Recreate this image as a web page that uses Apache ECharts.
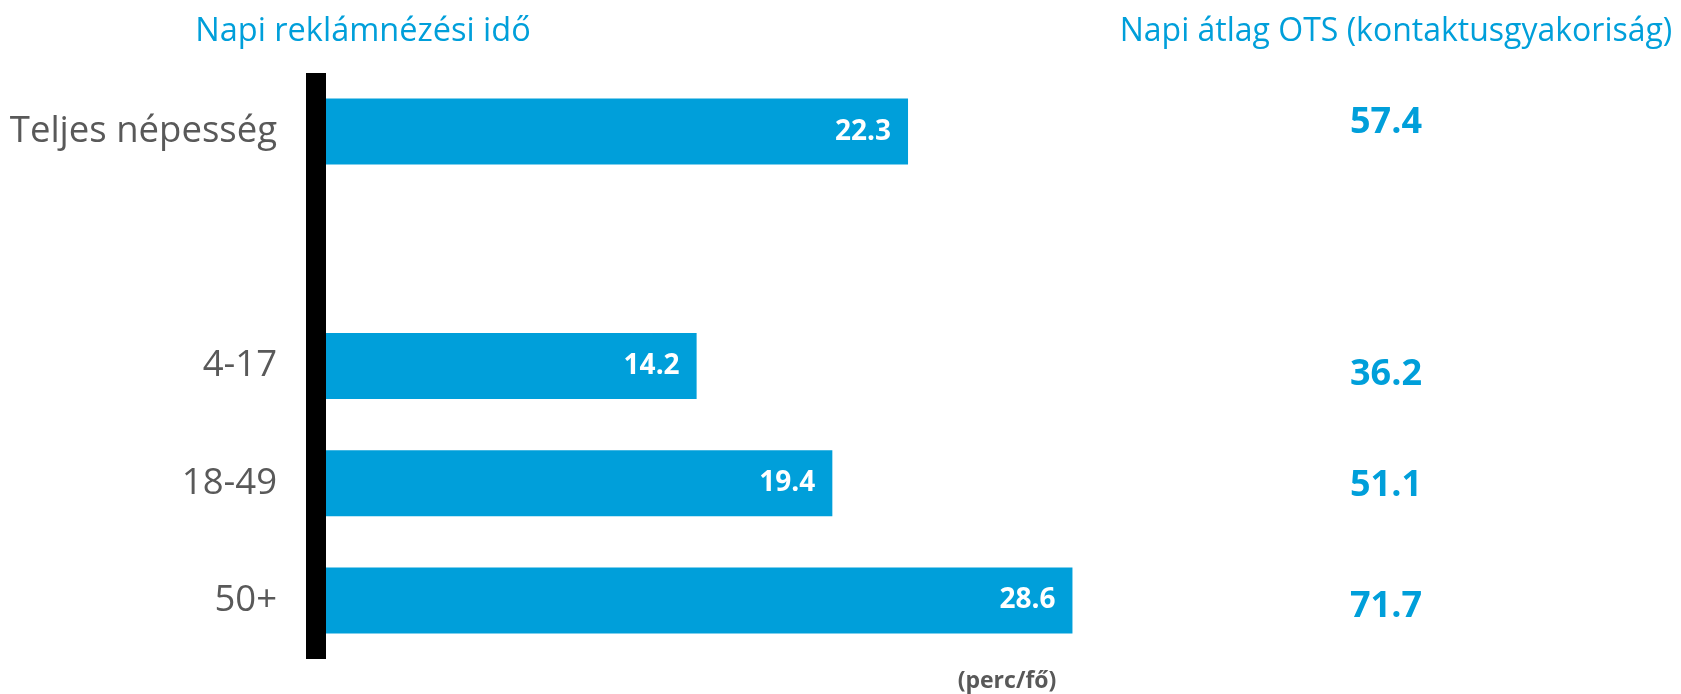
<!DOCTYPE html>
<html>
<head>
<meta charset="utf-8">
<script src="https://cdn.jsdelivr.net/npm/echarts@6/dist/echarts.min.js"></script>
<style>
html,body{margin:0;padding:0;background:#fff;}
#chart{width:1681px;height:694px;}
</style>
</head>
<body>
<div id="chart"></div>
<script>
const categories = ['Teljes népesség', '', '4-17', '18-49', '50+'];
const viewTime = [22.3, null, 14.2, 19.4, 28.6];
const otsValues = ['57.4', '', '36.2', '51.1', '71.7'];
const leftTitle = 'Napi reklámnézési idő';
const rightTitle = 'Napi átlag OTS (kontaktusgyakoriság)';
const unitNote = '(perc/fő)';

const BLUE = '#009FDA';
const GRAY = '#595959';
const FONT = 'Open Sans';

const otsPad = [[0,0,18,0],[0,0,0,0],[18,0,0,0],[5,0,0,0],[12,0,0,0]];
const otsRich = {};
otsPad.forEach((p, i) => {
  otsRich['o' + i] = {color: BLUE, fontSize: 36, fontWeight: 'bold', fontFamily: FONT, padding: p};
});

const chart = echarts.init(document.getElementById('chart'), null, {renderer: 'canvas'});
chart.setOption({
  animation: false,
  grid: {left: 326, top: 73, width: 1305, height: 586},
  xAxis: {type: 'value', min: 0, max: 50, show: false},
  yAxis: [
    {
      type: 'category', data: categories, inverse: true, offset: 10,
      axisLine: {show: true, onZero: false, lineStyle: {color: '#000', width: 20, cap: 'butt'}},
      axisTick: {show: false},
      splitLine: {show: false},
      axisLabel: {color: GRAY, fontSize: 36.5, fontFamily: FONT, margin: 39}
    },
    {
      type: 'category', position: 'right', inverse: true, offset: -281,
      data: otsValues,
      axisLine: {show: false, onZero: false}, axisTick: {show: false}, splitLine: {show: false},
      axisLabel: {color: BLUE, fontSize: 36, fontWeight: 'bold', fontFamily: FONT, margin: 0,
        formatter: (v, i) => v ? '{o' + i + '|' + v + '}' : '',
        rich: otsRich}
    }
  ],
  series: [{
    type: 'bar', data: viewTime, barWidth: 66, yAxisIndex: 0,
    itemStyle: {color: BLUE},
    label: {show: true, position: 'insideRight', distance: 17, color: '#fff',
      fontSize: 28, fontWeight: 'bold', fontFamily: FONT,
      formatter: p => p.value.toFixed(1)}
  }],
  graphic: [
    {type: 'text', x: 363, y: 32, style: {text: leftTitle, fill: BLUE, font: '32.5px "Open Sans"', align: 'center', verticalAlign: 'middle'}},
    {type: 'text', x: 1396, y: 32, style: {text: rightTitle, fill: BLUE, font: '32px "Open Sans"', align: 'center', verticalAlign: 'middle'}},
    {type: 'text', x: 1007, y: 681, style: {text: unitNote, fill: GRAY, font: 'bold 23px "Open Sans"', align: 'center', verticalAlign: 'middle'}}
  ]
});
</script>
</body>
</html>
